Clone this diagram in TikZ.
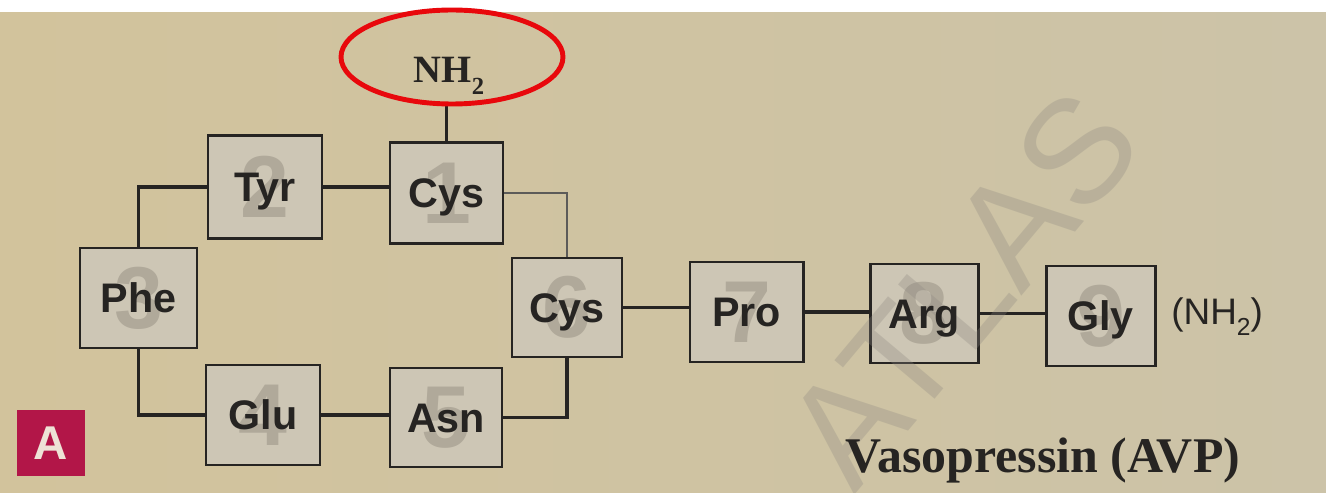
\documentclass[tikz,border=0pt]{standalone}
\usepackage{fontspec}
\setmainfont{Liberation Serif}
\setsansfont{Liberation Sans}
\usetikzlibrary{shapes.geometric}

\definecolor{paperL}{RGB}{210,195,156}
\definecolor{paperR}{RGB}{204,195,168}
\definecolor{boxfill}{RGB}{205,198,181}
\definecolor{ink}{RGB}{38,36,34}
\definecolor{numgray}{RGB}{176,169,154}
\definecolor{ringred}{RGB}{232,8,12}
\definecolor{badge}{RGB}{178,22,72}
\definecolor{badgetext}{RGB}{238,226,214}
\definecolor{wmark}{RGB}{140,135,128}

\tikzset{
  residue/.style={draw=ink, line width=1.7pt, fill=boxfill, inner sep=0pt},
  resnum/.style={font=\sffamily\bfseries\fontsize{50}{50}\selectfont, text=numgray, inner sep=0pt},
  reslabel/.style={font=\sffamily\bfseries\fontsize{23.5}{24}\selectfont, text=ink,
                   inner sep=0pt, text height=16.8pt, text depth=0pt},
  bond/.style={draw=ink, line width=2pt},
  thinbond/.style={draw=ink!75, line width=1.4pt},
}

\begin{document}
\begin{tikzpicture}[x=0.02cm, y=-0.02cm]
\useasboundingbox (0,0) rectangle (1326,493);

% paper
\shade[left color=paperL, right color=paperR] (0,0) rectangle (1326,493);
\fill[white] (0,0) rectangle (1326,12);

% residue boxes with their position numbers
\foreach \n/\x/\y/\w/\h/\d in {
  cysA/446.5/193/113/101/1,
  tyr/265/187/114/103/2,
  phe/138.5/298/117/100/3,
  glu/263/415/114/100/4,
  asn/446/417.5/112/99/5,
  cysB/567/307.5/110/99/6,
  pro/746.5/312/113/100/7,
  arg/924/313.5/108/99/8,
  gly/1100.5/316/109/100/9}
{
  \node[residue, minimum width=\w*0.02cm, minimum height=\h*0.02cm] (\n) at (\x,\y) {};
  \node[resnum] (\n-num) at (\n.center) {\d};
}

% peptide bonds
\draw[bond] (tyr.east) -- (tyr.east -| cysA.west);
\draw[bond] (tyr.west) -| (phe.north);
\draw[bond] (phe.south) |- (glu.west);
\draw[bond] (glu.east) -- (glu.east -| asn.west);
\draw[bond] (asn.east) -| (cysB.south);
\draw[thinbond] (cysA.east) -| (cysB.north);
\draw[bond] (cysB.east) -- (cysB.east -| pro.west);
\draw[bond] (pro.east) -- (pro.east -| arg.west);
\draw[bond] (arg.east) -- (arg.east -| gly.west);

% watermark
\node[font=\sffamily\fontsize{84}{84}\selectfont, text=wmark, opacity=0.3,
      rotate=50, inner sep=0pt] (wm) at (962,288) {ATLAS};

% residue names
\foreach \n/\t in {cysA/Cys, tyr/Tyr, phe/Phe, glu/Glu, asn/Asn,
                   cysB/Cys, pro/Pro, arg/Arg, gly/Gly}
{
  \node[reslabel] (\n-txt) at (\n.center) {\t};
}

% amino terminus
\node[font=\bfseries\fontsize{22}{22}\selectfont, text=ink, inner sep=0pt,
      text height=14.5pt, text depth=0pt] (nterm) at (449,70)
      {NH\raisebox{-0.3em}{\fontsize{14}{14}\selectfont 2}};
\coordinate (ntail) at (448,104);
\draw[bond] (cysA.north) -- (cysA.north |- ntail);
\node[draw=ringred, line width=2.8pt, ellipse, inner sep=0pt,
      minimum width=222*0.02cm, minimum height=94*0.02cm] (ring) at (452,57) {};

% amidated carboxy terminus
\node[font=\sffamily\fontsize{21}{22}\selectfont, text=ink, anchor=west, inner sep=0pt,
      text height=15pt, text depth=0pt] (cterm) at (1171,311)
      {(NH\raisebox{-0.3em}{\fontsize{14}{14}\selectfont 2})};

% panel letter
\node[fill=badge, minimum width=68*0.02cm, minimum height=66*0.02cm, inner sep=0pt,
      font=\sffamily\bfseries\fontsize{27}{27}\selectfont, text=badgetext,
      text height=19.3pt, text depth=0pt] (panel) at (51,443) {A};

% title
\node[font=\bfseries\fontsize{28.4}{30}\selectfont, text=ink, inner sep=0pt,
      text height=18.8pt, text depth=0pt] (title) at (1043,455.5) {Vasopressin (AVP)};
\end{tikzpicture}
\end{document}
